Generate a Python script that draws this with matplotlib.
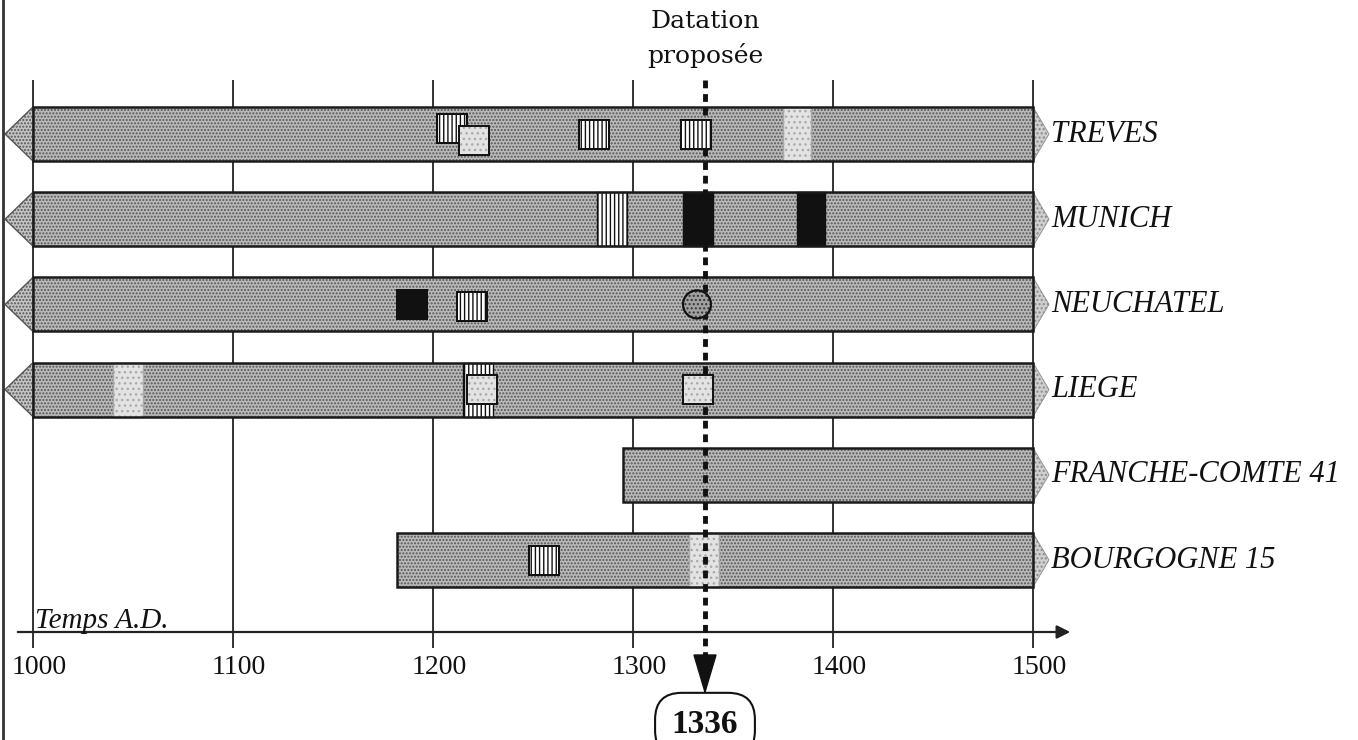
import matplotlib.pyplot as plt
from matplotlib.patches import Rectangle, Polygon, Ellipse

# sites (rows, top to bottom) and the span of each chronology
sites = ['TREVES', 'MUNICH', 'NEUCHATEL', 'LIEGE', 'FRANCHE-COMTE 41', 'BOURGOGNE 15']
bar_start = [1000, 1000, 1000, 1000, 1295, 1182]
bar_end = [1500, 1500, 1500, 1500, 1500, 1500]
open_left = [True, True, True, True, False, False]

# full-height bands on a bar: row, start year, end year, kind
band_row = [0, 1, 1, 1, 3, 3, 5]
band_start = [1375, 1282, 1325, 1382, 1040, 1215, 1328]
band_end = [1389, 1297, 1340, 1396, 1055, 1230, 1343]
band_kind = ['light', 'hatch', 'black', 'black', 'light', 'hatch', 'light']

# small squares inside a bar: row, start year, kind
sq_row = [0, 0, 0, 0, 2, 2, 3, 3, 5]
sq_start = [1202, 1213, 1273, 1324, 1182, 1212, 1217, 1325, 1248]
sq_kind = ['hatch', 'light', 'hatch', 'hatch', 'black', 'hatch', 'light', 'light', 'hatch']
sq_shift = [-0.06, 0.08, 0.0, 0.0, 0.0, 0.02, 0.0, 0.0, 0.0]

circle_row = [2]
circle_year = [1332]

grid_years = [1000, 1100, 1200, 1300, 1400, 1500]
proposed = 1336

W, H = 1358, 740
STEP = 85.2   # px between rows
ROW0 = 134    # px of first row centre


def py(px):
    # pixel row -> y units (row index)
    return (px - ROW0) / STEP


fig = plt.figure(figsize=(W / 100, H / 100), dpi=100)
ax = fig.add_axes([0, 0, 1, 1])
ax.set_xlim(1000 - 33 / 2, 1000 + (W - 33) / 2)
ax.set_ylim(py(H), py(0))
ax.axis('off')

serif = 'Liberation Serif'
bar_h = 54 / STEP
sq_h = 29 / STEP
sq_w = 15

# vertical century lines
ax.vlines(grid_years, py(80), py(648), color='#222222', lw=1.3, zorder=1)

styles = {
    'light': dict(facecolor='#e3e3e3', hatch='...', edgecolor='#aaaaaa'),
    'hatch': dict(facecolor='white', hatch='||||', edgecolor='#111111'),
    'black': dict(facecolor='#111111', edgecolor='#111111'),
}

for i, (s, e) in enumerate(zip(bar_start, bar_end)):
    top, bot = i - bar_h / 2, i + bar_h / 2
    ax.add_patch(Rectangle((s, top), e - s, bar_h, facecolor='#bababa', hatch='.....',
                           edgecolor='#555555', lw=0, zorder=2))
    ax.add_patch(Rectangle((s, top), e - s, bar_h, fill=False, edgecolor='#1a1a1a',
                           lw=1.8, zorder=4))
    ax.add_patch(Polygon([(e, top), (e + 8, i), (e, bot)], facecolor='#cfcfcf',
                         hatch='....', edgecolor='#8a8a8a', lw=0.6, zorder=2))
    if open_left[i]:
        ax.add_patch(Polygon([(s, top), (s - 14, i), (s, bot)], facecolor='#c4c4c4',
                             hatch='.....', edgecolor='#555555', lw=1.0, zorder=2))
    ax.text(e + 9, i, sites[i], ha='left', va='center', fontsize=22,
            family=serif, style='italic', color='#111111')

for r, s, e, k in zip(band_row, band_start, band_end, band_kind):
    ax.add_patch(Rectangle((s, r - bar_h / 2), e - s, bar_h, lw=1.0, zorder=3, **styles[k]))

for r, s, k, d in zip(sq_row, sq_start, sq_kind, sq_shift):
    ax.add_patch(Rectangle((s, r + d - sq_h / 2), sq_w, sq_h, lw=1.4, zorder=6, **styles[k]))
    ax.add_patch(Rectangle((s, r + d - sq_h / 2), sq_w, sq_h, fill=False,
                           edgecolor='#111111', lw=1.4, zorder=6))

for r, yr in zip(circle_row, circle_year):
    ax.add_patch(Ellipse((yr, r), 14, 28 / STEP, facecolor='#a0a0a0', hatch='....',
                         edgecolor='#333333', lw=1.4, zorder=6))
    ax.add_patch(Ellipse((yr, r), 14, 28 / STEP, fill=False, edgecolor='#111111',
                         lw=1.4, zorder=6))

# time axis
ax_y = py(632)
ax.annotate('', xy=(1520, ax_y), xytext=(991, ax_y),
            arrowprops=dict(arrowstyle='-|>', lw=1.6, color='#222222', mutation_scale=20))
for yr in grid_years:
    ax.text(yr + 3, py(668), str(yr), ha='center', va='center', fontsize=20,
            family=serif, color='#111111')
ax.text(1001, py(628), 'Temps A.D.', ha='left', va='baseline', fontsize=21,
        family=serif, style='italic', color='#111111')

# proposed date
ax.plot([proposed, proposed], [py(80), py(655)], color='#111111', lw=3.5,
        dashes=(1.6, 1.2), zorder=5)
ax.add_patch(Polygon([(proposed - 5.5, py(655)), (proposed + 5.5, py(655)),
                      (proposed, py(692))], facecolor='#111111', edgecolor='#111111', zorder=7))
ax.plot([proposed, proposed], [py(690), py(702)], color='#111111', lw=1.5, zorder=7)
ax.text(proposed, py(22), 'Datation', ha='center', va='center', fontsize=18,
        family='DejaVu Serif', color='#111111')
ax.text(proposed, py(55), 'proposée', ha='center', va='center', fontsize=18,
        family='DejaVu Serif', color='#111111')
ax.text(proposed, py(725), str(proposed), ha='center', va='center', fontsize=24,
        family=serif, weight='bold', color='#111111', zorder=8,
        bbox=dict(boxstyle='round,pad=0.5,rounding_size=0.8', fc='white',
                  ec='#111111', lw=1.5))

# left border of the scanned page
ax.plot([985, 985], [py(0), py(H)], color='#333333', lw=2)

fig.savefig('out.png', dpi=100)
